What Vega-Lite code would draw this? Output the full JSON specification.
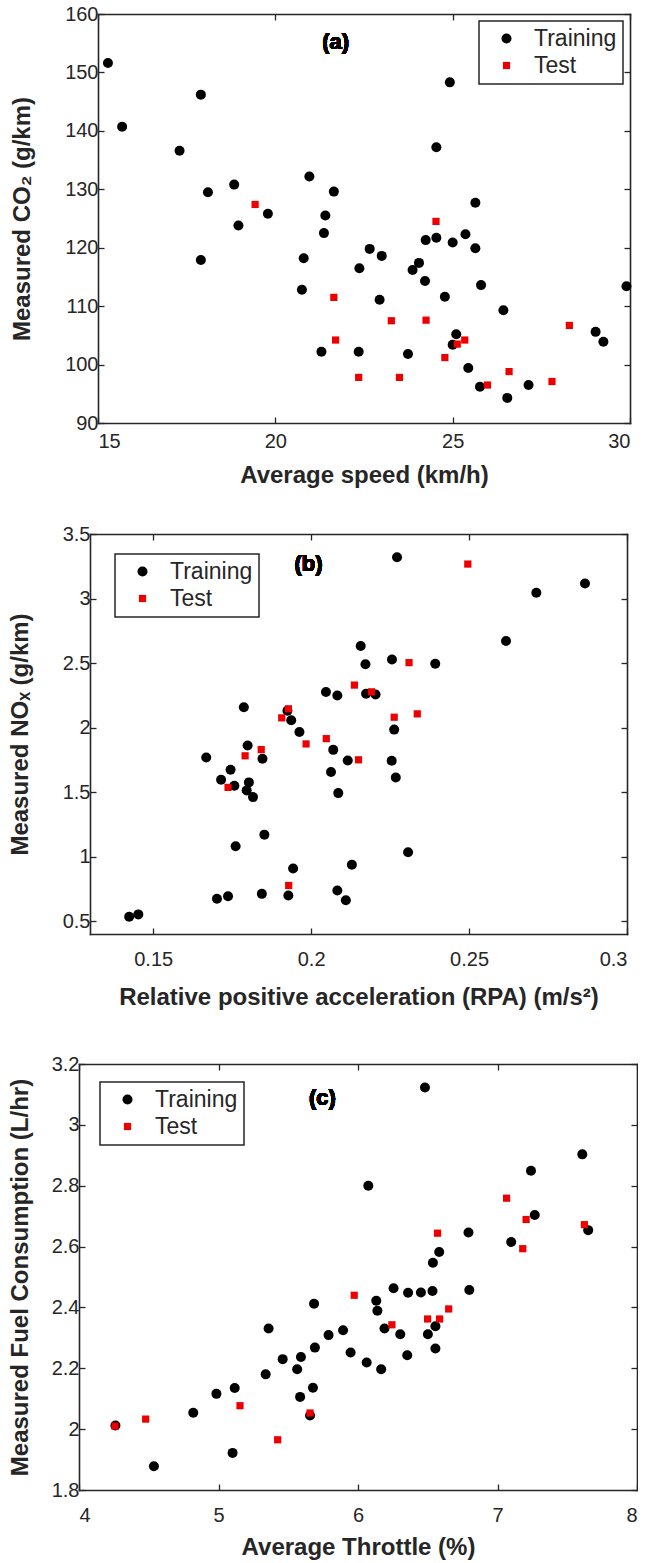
{
  "$schema": "https://vega.github.io/schema/vega-lite/v6.json",
  "background": "white",
  "padding": {"left": 8, "top": 4, "right": 0, "bottom": 2},
  "spacing": 37,
  "resolve": {"scale": {"color": "independent", "shape": "independent", "size": "independent"}, "legend": {"color": "independent", "shape": "independent", "size": "independent"}},
  "datasets": {
    "a": [
      {"x": 15.28, "y": 151.6, "set": "Training"}, {"x": 15.68, "y": 140.7, "set": "Training"},
      {"x": 17.9, "y": 146.2, "set": "Training"}, {"x": 17.3, "y": 136.6, "set": "Training"},
      {"x": 18.1, "y": 129.5, "set": "Training"}, {"x": 18.84, "y": 130.8, "set": "Training"},
      {"x": 18.96, "y": 123.8, "set": "Training"}, {"x": 19.79, "y": 125.8, "set": "Training"},
      {"x": 20.96, "y": 132.2, "set": "Training"}, {"x": 21.65, "y": 129.6, "set": "Training"},
      {"x": 21.41, "y": 125.5, "set": "Training"}, {"x": 21.37, "y": 122.5, "set": "Training"},
      {"x": 22.66, "y": 119.8, "set": "Training"}, {"x": 23.0, "y": 118.6, "set": "Training"},
      {"x": 24.54, "y": 137.2, "set": "Training"}, {"x": 24.92, "y": 148.3, "set": "Training"},
      {"x": 24.24, "y": 121.3, "set": "Training"}, {"x": 24.54, "y": 121.7, "set": "Training"},
      {"x": 25.0, "y": 120.9, "set": "Training"}, {"x": 25.36, "y": 122.3, "set": "Training"},
      {"x": 25.64, "y": 127.7, "set": "Training"}, {"x": 25.64, "y": 119.9, "set": "Training"},
      {"x": 17.9, "y": 117.9, "set": "Training"}, {"x": 20.8, "y": 118.2, "set": "Training"},
      {"x": 20.75, "y": 112.8, "set": "Training"}, {"x": 22.37, "y": 116.5, "set": "Training"},
      {"x": 23.87, "y": 116.2, "set": "Training"}, {"x": 24.05, "y": 117.4, "set": "Training"},
      {"x": 24.22, "y": 114.3, "set": "Training"}, {"x": 24.78, "y": 111.6, "set": "Training"},
      {"x": 25.8, "y": 113.6, "set": "Training"}, {"x": 22.94, "y": 111.1, "set": "Training"},
      {"x": 26.43, "y": 109.3, "set": "Training"}, {"x": 29.9, "y": 113.4, "set": "Training"},
      {"x": 25.1, "y": 105.2, "set": "Training"}, {"x": 25.0, "y": 103.4, "set": "Training"},
      {"x": 21.3, "y": 102.2, "set": "Training"}, {"x": 22.35, "y": 102.2, "set": "Training"},
      {"x": 23.74, "y": 101.8, "set": "Training"}, {"x": 25.44, "y": 99.4, "set": "Training"},
      {"x": 25.77, "y": 96.2, "set": "Training"}, {"x": 26.54, "y": 94.3, "set": "Training"},
      {"x": 27.14, "y": 96.5, "set": "Training"}, {"x": 29.03, "y": 105.6, "set": "Training"},
      {"x": 29.25, "y": 103.9, "set": "Training"},
      {"x": 19.43, "y": 127.4, "set": "Test"}, {"x": 24.53, "y": 124.5, "set": "Test"},
      {"x": 21.65, "y": 111.5, "set": "Test"}, {"x": 21.7, "y": 104.2, "set": "Test"},
      {"x": 23.27, "y": 107.5, "set": "Test"}, {"x": 24.25, "y": 107.6, "set": "Test"},
      {"x": 22.35, "y": 97.8, "set": "Test"}, {"x": 23.5, "y": 97.8, "set": "Test"},
      {"x": 24.78, "y": 101.2, "set": "Test"}, {"x": 25.13, "y": 103.5, "set": "Test"},
      {"x": 25.34, "y": 104.2, "set": "Test"}, {"x": 25.98, "y": 96.5, "set": "Test"},
      {"x": 26.59, "y": 98.8, "set": "Test"}, {"x": 27.8, "y": 97.1, "set": "Test"},
      {"x": 28.29, "y": 106.7, "set": "Test"}
    ],
    "b": [
      {"x": 0.2272, "y": 3.32, "set": "Training"}, {"x": 0.2867, "y": 3.117, "set": "Training"},
      {"x": 0.2713, "y": 3.044, "set": "Training"}, {"x": 0.2617, "y": 2.671, "set": "Training"},
      {"x": 0.2393, "y": 2.495, "set": "Training"}, {"x": 0.2256, "y": 2.528, "set": "Training"},
      {"x": 0.2157, "y": 2.632, "set": "Training"}, {"x": 0.2172, "y": 2.49, "set": "Training"},
      {"x": 0.2047, "y": 2.275, "set": "Training"}, {"x": 0.2083, "y": 2.249, "set": "Training"},
      {"x": 0.2174, "y": 2.262, "set": "Training"}, {"x": 0.2204, "y": 2.256, "set": "Training"},
      {"x": 0.1787, "y": 2.158, "set": "Training"}, {"x": 0.1937, "y": 2.057, "set": "Training"},
      {"x": 0.1925, "y": 2.13, "set": "Training"},
      {"x": 0.1963, "y": 1.966, "set": "Training"}, {"x": 0.2263, "y": 1.984, "set": "Training"},
      {"x": 0.1799, "y": 1.861, "set": "Training"}, {"x": 0.207, "y": 1.827, "set": "Training"},
      {"x": 0.1668, "y": 1.768, "set": "Training"}, {"x": 0.1846, "y": 1.758, "set": "Training"},
      {"x": 0.2116, "y": 1.745, "set": "Training"}, {"x": 0.2255, "y": 1.742, "set": "Training"},
      {"x": 0.1745, "y": 1.673, "set": "Training"}, {"x": 0.2063, "y": 1.655, "set": "Training"},
      {"x": 0.1715, "y": 1.595, "set": "Training"}, {"x": 0.1757, "y": 1.549, "set": "Training"},
      {"x": 0.1803, "y": 1.575, "set": "Training"}, {"x": 0.1796, "y": 1.513, "set": "Training"},
      {"x": 0.1816, "y": 1.461, "set": "Training"}, {"x": 0.2268, "y": 1.613, "set": "Training"},
      {"x": 0.2086, "y": 1.492, "set": "Training"}, {"x": 0.1852, "y": 1.17, "set": "Training"},
      {"x": 0.1761, "y": 1.08, "set": "Training"}, {"x": 0.2307, "y": 1.033, "set": "Training"},
      {"x": 0.1943, "y": 0.907, "set": "Training"}, {"x": 0.2129, "y": 0.936, "set": "Training"},
      {"x": 0.2083, "y": 0.737, "set": "Training"}, {"x": 0.211, "y": 0.662, "set": "Training"},
      {"x": 0.1702, "y": 0.673, "set": "Training"}, {"x": 0.1737, "y": 0.693, "set": "Training"},
      {"x": 0.1844, "y": 0.711, "set": "Training"}, {"x": 0.1928, "y": 0.698, "set": "Training"},
      {"x": 0.1424, "y": 0.534, "set": "Training"}, {"x": 0.1453, "y": 0.552, "set": "Training"},
      {"x": 0.2496, "y": 3.267, "set": "Test"}, {"x": 0.231, "y": 2.503, "set": "Test"},
      {"x": 0.2137, "y": 2.329, "set": "Test"}, {"x": 0.2191, "y": 2.277, "set": "Test"},
      {"x": 0.2336, "y": 2.106, "set": "Test"}, {"x": 0.2263, "y": 2.08, "set": "Test"},
      {"x": 0.1907, "y": 2.075, "set": "Test"}, {"x": 0.1928, "y": 2.145, "set": "Test"},
      {"x": 0.2048, "y": 1.914, "set": "Test"}, {"x": 0.1984, "y": 1.873, "set": "Test"},
      {"x": 0.1842, "y": 1.829, "set": "Test"}, {"x": 0.1791, "y": 1.781, "set": "Test"},
      {"x": 0.215, "y": 1.75, "set": "Test"}, {"x": 0.1737, "y": 1.536, "set": "Test"},
      {"x": 0.1929, "y": 0.776, "set": "Test"}
    ],
    "c": [
      {"x": 6.48, "y": 3.123, "set": "Training"}, {"x": 6.074, "y": 2.8, "set": "Training"},
      {"x": 7.608, "y": 2.903, "set": "Training"}, {"x": 7.24, "y": 2.849, "set": "Training"},
      {"x": 7.267, "y": 2.704, "set": "Training"}, {"x": 7.65, "y": 2.654, "set": "Training"},
      {"x": 6.792, "y": 2.646, "set": "Training"}, {"x": 7.098, "y": 2.615, "set": "Training"},
      {"x": 6.582, "y": 2.582, "set": "Training"}, {"x": 6.537, "y": 2.547, "set": "Training"},
      {"x": 6.255, "y": 2.463, "set": "Training"}, {"x": 6.359, "y": 2.448, "set": "Training"},
      {"x": 6.451, "y": 2.449, "set": "Training"}, {"x": 6.534, "y": 2.454, "set": "Training"},
      {"x": 6.798, "y": 2.457, "set": "Training"}, {"x": 6.131, "y": 2.422, "set": "Training"},
      {"x": 6.139, "y": 2.389, "set": "Training"}, {"x": 5.685, "y": 2.412, "set": "Training"},
      {"x": 6.19, "y": 2.331, "set": "Training"}, {"x": 6.303, "y": 2.312, "set": "Training"},
      {"x": 6.501, "y": 2.312, "set": "Training"}, {"x": 6.555, "y": 2.338, "set": "Training"},
      {"x": 6.555, "y": 2.265, "set": "Training"}, {"x": 6.353, "y": 2.243, "set": "Training"},
      {"x": 5.893, "y": 2.325, "set": "Training"}, {"x": 5.789, "y": 2.309, "set": "Training"},
      {"x": 5.359, "y": 2.331, "set": "Training"}, {"x": 5.691, "y": 2.268, "set": "Training"},
      {"x": 5.947, "y": 2.252, "set": "Training"}, {"x": 6.062, "y": 2.219, "set": "Training"},
      {"x": 6.166, "y": 2.197, "set": "Training"}, {"x": 5.46, "y": 2.23, "set": "Training"},
      {"x": 5.591, "y": 2.237, "set": "Training"}, {"x": 5.564, "y": 2.197, "set": "Training"},
      {"x": 5.338, "y": 2.18, "set": "Training"}, {"x": 5.116, "y": 2.135, "set": "Training"},
      {"x": 4.985, "y": 2.116, "set": "Training"}, {"x": 5.677, "y": 2.136, "set": "Training"},
      {"x": 5.585, "y": 2.106, "set": "Training"}, {"x": 4.819, "y": 2.054, "set": "Training"},
      {"x": 5.656, "y": 2.045, "set": "Training"}, {"x": 4.261, "y": 2.012, "set": "Training"},
      {"x": 5.101, "y": 1.922, "set": "Training"}, {"x": 4.537, "y": 1.878, "set": "Training"},
      {"x": 7.065, "y": 2.759, "set": "Test"}, {"x": 7.205, "y": 2.689, "set": "Test"},
      {"x": 7.181, "y": 2.593, "set": "Test"}, {"x": 7.623, "y": 2.672, "set": "Test"},
      {"x": 6.57, "y": 2.644, "set": "Test"}, {"x": 5.973, "y": 2.44, "set": "Test"},
      {"x": 6.65, "y": 2.395, "set": "Test"}, {"x": 6.499, "y": 2.362, "set": "Test"},
      {"x": 6.585, "y": 2.362, "set": "Test"}, {"x": 6.243, "y": 2.343, "set": "Test"},
      {"x": 5.154, "y": 2.077, "set": "Test"}, {"x": 5.656, "y": 2.053, "set": "Test"},
      {"x": 4.478, "y": 2.033, "set": "Test"}, {"x": 4.258, "y": 2.01, "set": "Test"},
      {"x": 5.424, "y": 1.965, "set": "Test"}
    ]
  },
  "vconcat": [
    {
      "width": 558, "height": 409,
      "data": {"name": "a"},
      "layer": [
        {
          "mark": {"type": "point", "filled": true, "opacity": 1, "strokeWidth": 0},
          "encoding": {
            "x": {"field": "x", "type": "quantitative", "scale": {"domain": [15, 30], "range": [19, 551], "nice": false, "zero": false},
                  "axis": {"orient": "bottom", "values": [15, 20, 25, 30], "title": "Average speed (km/h)", "labelPadding": 14, "titlePadding": 12}},
            "y": {"field": "y", "type": "quantitative", "scale": {"domain": [90, 160], "nice": false, "zero": false},
                  "axis": {"orient": "left", "offset": -19, "values": [90, 100, 110, 120, 130, 140, 150, 160], "title": "Measured CO₂ (g/km)", "titlePadding": 30}},
            "color": {"field": "set", "type": "nominal", "scale": {"domain": ["Training", "Test"], "range": ["#000000", "#ee0000"]},
                      "legend": {"title": null, "orient": "none", "legendX": 400, "legendY": 7}},
            "shape": {"field": "set", "type": "nominal", "scale": {"domain": ["Training", "Test"], "range": ["circle", "square"]},
                      "legend": {"title": null, "orient": "none", "legendX": 400, "legendY": 7}},
            "size": {"field": "set", "type": "nominal", "scale": {"domain": ["Training", "Test"], "range": [100, 52]},
                     "legend": {"title": null, "orient": "none", "legendX": 400, "legendY": 7}}
          }
        },
        {
          "mark": {"type": "text", "fontWeight": "bold", "fontSize": 22, "fill": "#000000"},
          "encoding": {
            "x": {"datum": 21.7, "type": "quantitative", "scale": {"domain": [15, 30], "range": [19, 551], "nice": false, "zero": false},
                  "axis": {"orient": "top", "values": [15, 20, 25, 30], "labels": false, "title": null}},
            "y": {"datum": 155.2, "type": "quantitative", "scale": {"domain": [90, 160], "nice": false, "zero": false},
                  "axis": {"orient": "right", "offset": -7, "values": [90, 100, 110, 120, 130, 140, 150, 160], "labels": false, "title": null}},
            "text": {"value": "(a)"}
          }
        }
      ],
      "resolve": {"axis": {"x": "independent", "y": "independent"}}
    },
    {
      "spacing": 45,
      "resolve": {"scale": {"color": "independent", "shape": "independent", "size": "independent"}, "legend": {"color": "independent", "shape": "independent", "size": "independent"}},
      "vconcat": [
        {
          "width": 558, "height": 400,
          "data": {"name": "b"},
          "layer": [
            {
              "mark": {"type": "point", "filled": true, "opacity": 1, "strokeWidth": 0},
              "encoding": {
                "x": {"field": "x", "type": "quantitative", "scale": {"domain": [0.13, 0.3], "range": [11, 548], "nice": false, "zero": false},
                      "axis": {"orient": "bottom", "values": [0.15, 0.2, 0.25, 0.3], "format": ".2~f", "title": "Relative positive acceleration (RPA) (m/s²)", "labelPadding": 21, "titlePadding": 16}},
                "y": {"field": "y", "type": "quantitative", "scale": {"domain": [0.4, 3.5], "nice": false, "zero": false},
                      "axis": {"orient": "left", "offset": -11, "values": [0.5, 1, 1.5, 2, 2.5, 3, 3.5], "format": ".1~f", "title": "Measured NOₓ (g/km)", "titlePadding": 30}},
                "color": {"field": "set", "type": "nominal", "scale": {"domain": ["Training", "Test"], "range": ["#000000", "#ee0000"]},
                          "legend": {"title": null, "orient": "none", "legendX": 36, "legendY": 20}},
                "shape": {"field": "set", "type": "nominal", "scale": {"domain": ["Training", "Test"], "range": ["circle", "square"]},
                          "legend": {"title": null, "orient": "none", "legendX": 36, "legendY": 20}},
                "size": {"field": "set", "type": "nominal", "scale": {"domain": ["Training", "Test"], "range": [100, 52]},
                         "legend": {"title": null, "orient": "none", "legendX": 36, "legendY": 20}}
              }
            },
            {
              "mark": {"type": "text", "fontWeight": "bold", "fontSize": 22, "fill": "#000000"},
              "encoding": {
                "x": {"datum": 0.1992, "type": "quantitative", "scale": {"domain": [0.13, 0.3], "range": [11, 548], "nice": false, "zero": false},
                      "axis": {"orient": "top", "values": [0.15, 0.2, 0.25, 0.3], "labels": false, "title": null}},
                "y": {"datum": 3.267, "type": "quantitative", "scale": {"domain": [0.4, 3.5], "nice": false, "zero": false},
                      "axis": {"orient": "right", "offset": -10, "values": [0.5, 1, 1.5, 2, 2.5, 3, 3.5], "labels": false, "title": null}},
                "text": {"value": "(b)"}
              }
            }
          ],
          "resolve": {"axis": {"x": "independent", "y": "independent"}}
        },
        {
          "width": 558, "height": 426,
          "data": {"name": "c"},
          "layer": [
            {
              "mark": {"type": "point", "filled": true, "opacity": 1, "strokeWidth": 0},
              "encoding": {
                "x": {"field": "x", "type": "quantitative", "scale": {"domain": [4, 8], "nice": false, "zero": false},
                      "axis": {"orient": "bottom", "values": [4, 5, 6, 7, 8], "title": "Average Throttle (%)", "labelPadding": 21, "titlePadding": 10}},
                "y": {"field": "y", "type": "quantitative", "scale": {"domain": [1.8, 3.2], "nice": false, "zero": false},
                      "axis": {"orient": "left", "values": [1.8, 2, 2.2, 2.4, 2.6, 2.8, 3, 3.2], "format": ".1~f", "title": "Measured Fuel Consumption (L/hr)", "titlePadding": 19}},
                "color": {"field": "set", "type": "nominal", "scale": {"domain": ["Training", "Test"], "range": ["#000000", "#ee0000"]},
                          "legend": {"title": null, "orient": "none", "legendX": 21, "legendY": 18}},
                "shape": {"field": "set", "type": "nominal", "scale": {"domain": ["Training", "Test"], "range": ["circle", "square"]},
                          "legend": {"title": null, "orient": "none", "legendX": 21, "legendY": 18}},
                "size": {"field": "set", "type": "nominal", "scale": {"domain": ["Training", "Test"], "range": [100, 52]},
                         "legend": {"title": null, "orient": "none", "legendX": 21, "legendY": 18}}
              }
            },
            {
              "mark": {"type": "text", "fontWeight": "bold", "fontSize": 22, "fill": "#000000"},
              "encoding": {
                "x": {"datum": 5.745, "type": "quantitative", "scale": {"domain": [4, 8], "nice": false, "zero": false},
                      "axis": {"orient": "top", "values": [4, 5, 6, 7, 8], "labels": false, "title": null}},
                "y": {"datum": 3.087, "type": "quantitative", "scale": {"domain": [1.8, 3.2], "nice": false, "zero": false},
                      "axis": {"orient": "right", "values": [1.8, 2, 2.2, 2.4, 2.6, 2.8, 3, 3.2], "labels": false, "title": null}},
                "text": {"value": "(c)"}
              }
            }
          ],
          "resolve": {"axis": {"x": "independent", "y": "independent"}}
        }
      ]
    }
  ],
  "config": {
    "font": "Liberation Sans",
    "view": {"stroke": null},
    "axis": {
      "grid": false, "domain": true, "domainColor": "#262626", "domainWidth": 1.6, "domainCap": "square",
      "tickColor": "#262626", "tickSize": -6, "tickWidth": 1.3,
      "labelFont": "Liberation Sans", "labelFontSize": 20, "labelColor": "#262626", "labelPadding": 6,
      "titleFont": "Liberation Sans", "titleFontWeight": "bold", "titleFontSize": 24, "titleColor": "#262626"
    },
    "legend": {
      "fillColor": "#ffffff", "strokeColor": "#262626", "strokeWidth": 1.5,
      "padding": 6, "symbolOffset": 10, "labelOffset": 16, "rowPadding": 3,
      "labelFont": "Liberation Sans", "labelFontSize": 23, "labelColor": "#262626",
      "symbolStrokeWidth": 0, "cornerRadius": 0
    }
  }
}
